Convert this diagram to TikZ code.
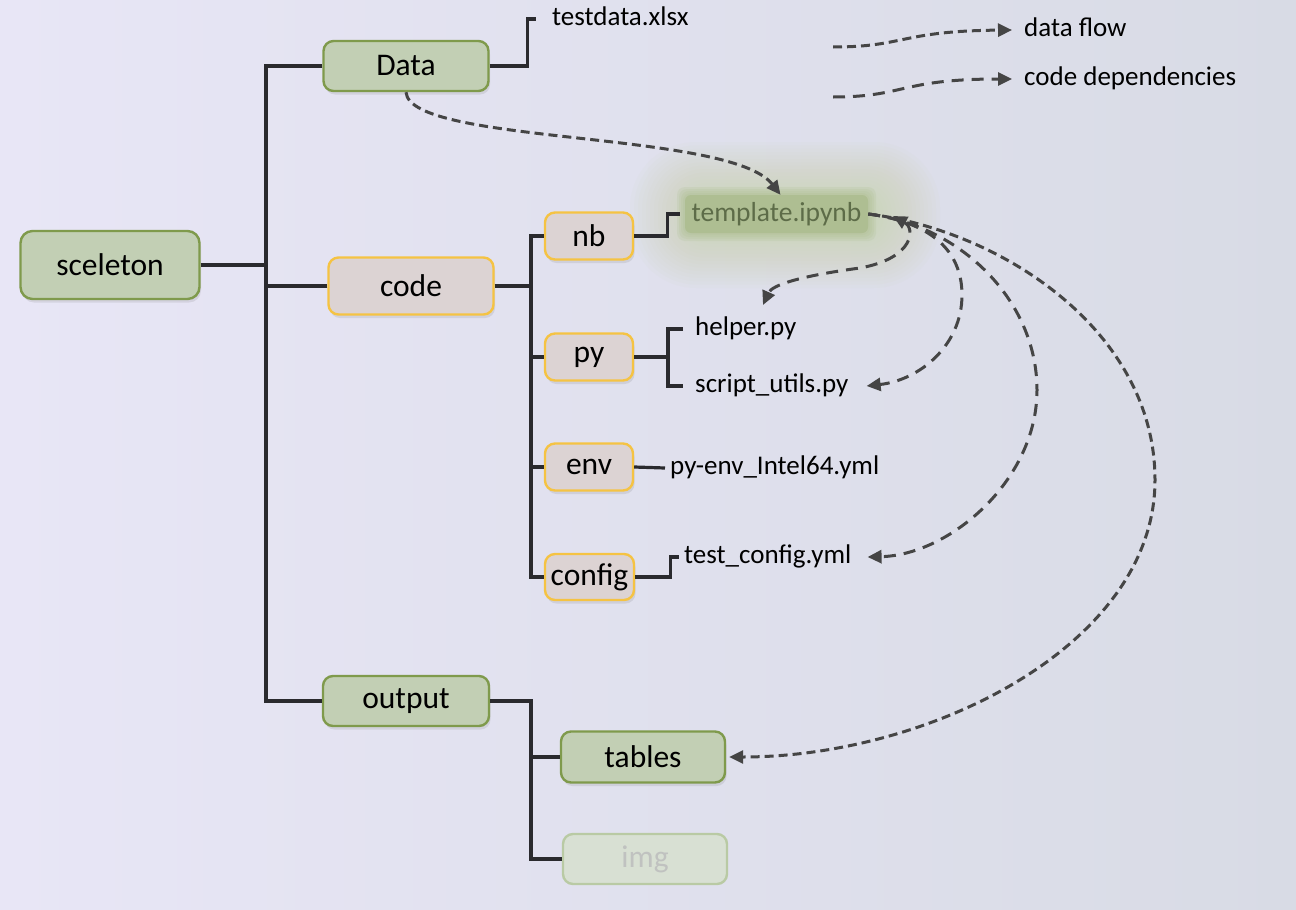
\documentclass[tikz,border=0pt]{standalone}
\usepackage{fontspec}
\setmainfont{Carlito}
\usetikzlibrary{arrows.meta,shadows,calc}
\definecolor{bgL}{HTML}{E8E6F6}
\definecolor{bgR}{HTML}{D8DBE5}
\definecolor{gfill}{HTML}{C2CFB4}
\definecolor{gline}{HTML}{7F9A4C}
\definecolor{cfill}{HTML}{DCD3D3}
\definecolor{cline}{HTML}{F5C343}
\definecolor{ifill}{HTML}{D8E0D3}
\definecolor{iline}{HTML}{B9CAA4}
\definecolor{itext}{HTML}{C0C2C0}
\definecolor{treec}{HTML}{2A2A2E}
\definecolor{dsh}{HTML}{454545}
\definecolor{glowc}{HTML}{C5D6A0}
\definecolor{tfill}{HTML}{AEBE92}
\definecolor{ttext}{HTML}{5D6C48}
\begin{document}
\begin{tikzpicture}[x=1pt,y=-1pt,
 box/.style={rounded corners=10pt, line width=2.4pt, inner sep=0pt, font=\fontsize{31.5}{36}\selectfont},
 shad/.style={drop shadow={opacity=0.18, shadow xshift=1.5pt, shadow yshift=-3.5pt}},
 gbox/.style={box, shad, draw=gline, fill=gfill},
 cbox/.style={box, shad, draw=cline, fill=cfill},
 ibox/.style={box, draw=iline, fill=ifill, text=itext},
 file/.style={anchor=west, inner sep=4pt, font=\fontsize{27}{30}\selectfont, text height=19pt, text depth=6pt},
 treeline/.style={draw=treec, line width=3.2pt},
 flow/.style={draw=dsh, line width=3pt, dash pattern=on 9pt off 5pt, -{Triangle[length=14pt,width=13pt]}},
 dep/.style={draw=dsh, line width=3pt, dash pattern=on 12pt off 8pt, -{Triangle[length=14pt,width=13pt]}},
]
\useasboundingbox (0,0) rectangle (1296,910);
\shade[left color=bgL, right color=bgR] (0,0) rectangle (1296,910);

% glow around template
\foreach \i in {0,...,15} {
  \pgfmathsetmacro\w{95+4*\i}
  \pgfmathsetmacro\h{22+3.4*\i}
  \pgfmathsetmacro\r{0.9*\h}
  \fill[glowc, opacity=0.045, rounded corners=\r pt] (785-\w, 215-\h) rectangle (785+\w, 215+\h);
}
\foreach \i in {0,...,4} {
  \fill[tfill, opacity=0.2, rounded corners=8pt] (685-2*\i, 195-2*\i) rectangle (868+2*\i, 233+2*\i);
}

% main boxes
\node[gbox, minimum width=179pt, minimum height=68pt, rounded corners=12pt] (scel) at (110,265) {sceleton};
\node[gbox, minimum width=165pt, minimum height=50pt] (data) at (406,66) {Data};
\node[cbox, minimum width=165pt, minimum height=57pt] (code) at (411,286) {code};
\node[gbox, minimum width=166pt, minimum height=50pt] (out) at (406,701) {output};
\node[cbox, minimum width=88pt, minimum height=47pt] (nb) at (589,236) {nb};
\node[cbox, minimum width=88pt, minimum height=47pt] (py) at (589,357) {py};
\node[cbox, minimum width=88pt, minimum height=47pt] (env) at (589,467) {env};
\node[cbox, minimum width=89pt, minimum height=46pt] (config) at (589.5,577) {config};
\node[gbox, minimum width=164pt, minimum height=51pt] (tables) at (643,757) {tables};
\node[ibox, minimum width=164pt, minimum height=50pt] (img) at (645,859) {img};

% template node
\node[fill=tfill, rounded corners=6pt, minimum width=183pt, minimum height=38pt, inner sep=0pt,
      text=ttext, font=\fontsize{27.5}{30}\selectfont] (tmpl) at (776.5,214) {template.ipynb};

% file labels
\node[file] (tdata) at (548,19) {testdata.xlsx};
\node[file] (helper) at (691,329) {helper.py};
\node[file] (sutil) at (691,386) {script\_utils.py};
\node[file] (penv) at (666,468) {py-env\_Intel64.yml};
\node[file] (tcfg) at (680,557) {test\_config.yml};

% legend
\node[file] (lflow) at (1020,30) {data flow};
\node[file] (ldep) at (1020,79) {code dependencies};
\coordinate (lf0) at (833,47);
\coordinate (ld0) at (833,97);

% tree lines
\coordinate (trunk) at (266,0);
\draw[treeline] (data.west) -- (data.west -| trunk) -- (out.west -| trunk) -- (out.west);
\draw[treeline] (scel.east) -- (scel.east -| trunk);
\draw[treeline] (code.west) -- (code.west -| trunk);

\coordinate (ctrunk) at (531,0);
\draw[treeline] (code.east) -- (code.east -| ctrunk);
\draw[treeline] (nb.west) -- (nb.west -| ctrunk) -- (config.west -| ctrunk) -- (config.west);
\draw[treeline] (py.west) -- (py.west -| ctrunk);
\draw[treeline] (env.west) -- (env.west -| ctrunk);

\draw[treeline] (data.east) -- ++(38,0) |- ([xshift=-12pt]tdata.west);
\draw[treeline] (nb.east) -- ++(33,0) |- ([xshift=-5pt]tmpl.west);
\coordinate (pyj) at (668,0);
\draw[treeline] (py.east) -- (py.east -| pyj);
\draw[treeline] ([xshift=-8pt]helper.west) -- (helper.west -| pyj) -- (sutil.west -| pyj) -- ([xshift=-8pt]sutil.west);
\draw[treeline] (env.east) -- ([xshift=-1pt]penv.west);
\draw[treeline] (config.east) -- ++(35,0) |- ([xshift=-1pt]tcfg.west);
\coordinate (otrunk) at (531,0);
\draw[treeline] (out.east) -- (out.east -| otrunk) -- (img.west -| otrunk) -- (img.west);
\draw[treeline] (tables.west) -- (tables.west -| otrunk);

% dashed connectors
\draw[flow] (data.south) .. controls (410,145) and (730,130) .. ([xshift=4pt]tmpl.north);
\coordinate (hlpStart) at (893,216);
\coordinate (hlpTip) at (763,305);
\draw[dep, {Triangle[length=14pt,width=13pt]}-{Triangle[length=14pt,width=13pt]}] (hlpStart) .. controls (915,228) and (915,258) .. (860,268) .. controls (800,276) and (772,285) .. (hlpTip);
\draw[dep] (tmpl.east) .. controls (930,222) and (962,250) .. (962,295) .. controls (962,345) and (920,380) .. ([xshift=14pt]sutil.east);
\draw[dep] (tmpl.east) .. controls (960,225) and (1037,300) .. (1037,390) .. controls (1037,480) and (950,555) .. ([xshift=12pt]tcfg.east);
\draw[flow] (tmpl.east) .. controls (1000,230) and (1155,330) .. (1155,480) .. controls (1155,645) and (930,757) .. ([xshift=3pt]tables.east);

% legend curves
\draw[flow] (lf0) .. controls (905,47) and (900,31) .. ([xshift=-8pt]lflow.west);
\draw[dep] (ld0) .. controls (905,97) and (900,79) .. ([xshift=-8pt]ldep.west);
\end{tikzpicture}
\end{document}
